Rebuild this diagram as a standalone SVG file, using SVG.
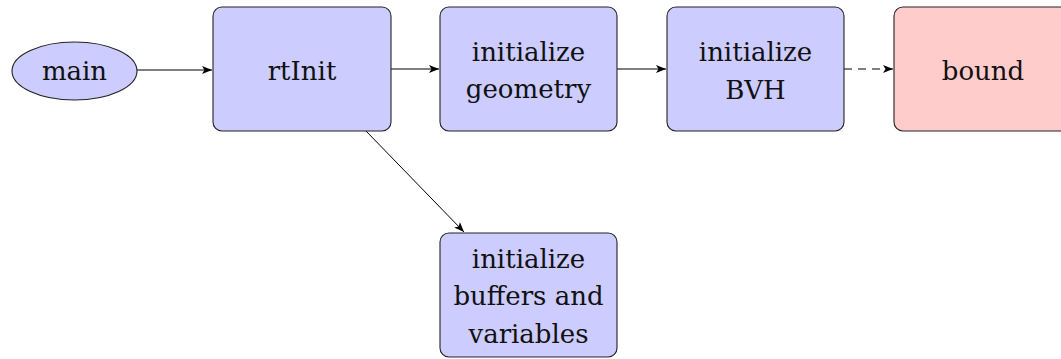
<svg xmlns="http://www.w3.org/2000/svg" width="1061" height="359" viewBox="0 0 1061 359">
  <style>
    .box { fill: #ccccff; stroke: #222; stroke-width: 1.1; }
    .red { fill: #ffcccc; }
    .lbl { font-size: 26px; fill: #111; text-anchor: middle; }
    .edge { fill: none; stroke: #000; stroke-width: 1; }
    .dash { stroke-dasharray: 8 6; }
  </style>
  <defs>
    <marker id="arrow" viewBox="0 0 10 8" refX="10" refY="4" markerWidth="10" markerHeight="8" markerUnits="userSpaceOnUse" orient="auto">
      <path d="M0,0 L10,4 L0,8 L2.5,4 Z" fill="#000"/>
    </marker>
  </defs>

  <!-- arrows between the steps -->
  <g id="connectors">
    <line class="edge" x1="137" y1="70" x2="212" y2="70" marker-end="url(#arrow)"/>
    <line class="edge" x1="391" y1="69" x2="439" y2="69" marker-end="url(#arrow)"/>
    <line class="edge" x1="617" y1="69" x2="666" y2="69" marker-end="url(#arrow)"/>
    <line class="edge dash" x1="844" y1="69" x2="893" y2="69" marker-end="url(#arrow)"/>
    <line class="edge" x1="366" y1="131" x2="464" y2="232" marker-end="url(#arrow)"/>
  </g>

  <g id="main">
    <ellipse class="box" cx="74.5" cy="71" rx="62.5" ry="29"/>
    <text class="lbl" x="74.5" y="80" font-family="DejaVu Serif">main</text>
  </g>

  <g id="rtInit">
    <rect class="box" x="213" y="7" width="178" height="124" rx="9"/>
    <text class="lbl" x="302" y="80" font-family="DejaVu Serif">rtInit</text>
  </g>

  <g id="init-geometry">
    <rect class="box" x="440" y="7" width="177" height="124" rx="9"/>
    <text class="lbl" x="528.5" y="61" font-family="DejaVu Serif">initialize</text>
    <text class="lbl" x="528.5" y="98" font-family="DejaVu Serif">geometry</text>
  </g>

  <g id="init-bvh">
    <rect class="box" x="667" y="7" width="177" height="124" rx="9"/>
    <text class="lbl" x="755.5" y="61" font-family="DejaVu Serif">initialize</text>
    <text class="lbl" x="755.5" y="99" font-family="DejaVu Serif">BVH</text>
  </g>

  <g id="bound">
    <rect class="box red" x="894" y="7" width="178" height="124" rx="9"/>
    <text class="lbl" x="983" y="80" font-family="DejaVu Serif">bound</text>
  </g>

  <g id="init-buffers">
    <rect class="box" x="440" y="233" width="177" height="124" rx="9"/>
    <text class="lbl" x="528.5" y="268" font-family="DejaVu Serif">initialize</text>
    <text class="lbl" x="528.5" y="305" font-family="DejaVu Serif">buffers and</text>
    <text class="lbl" x="528.5" y="343" font-family="DejaVu Serif">variables</text>
  </g>
</svg>
